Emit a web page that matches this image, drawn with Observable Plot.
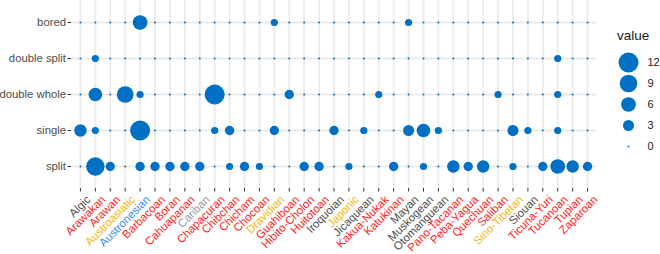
<!DOCTYPE html>
<html><head><meta charset="utf-8">
<script src="https://cdn.jsdelivr.net/npm/d3@7"></script>
<script src="https://cdn.jsdelivr.net/npm/@observablehq/plot@0.6"></script>
<style>
body{margin:0;background:#fff;}
#wrap{position:relative;width:660px;height:254px;font-family:"Liberation Sans",Arial,sans-serif;}
#legend{position:absolute;left:600px;top:0;}
#ltitle{position:absolute;left:617px;top:29px;font-size:13.5px;line-height:13.5px;color:#1a1a1a;}
</style></head><body><div id="wrap"><div id="ltitle">value</div></div>
<script>
const families = ["Algic","Arawakan","Arawan","Austroasiatic","Austronesian","Barbacoan","Boran","Cahuapanan","Cariban","Chapacuran","Chibchan","Chicham","Chocoan","Dravidian","Guahiboan","Hibito-Cholon","Huitotoan","Iroquoian","Japonic","Jicaquean","Kakua-Nukak","Katukinan","Mayan","Muskogean","Otomanguean","Pano-Tacanan","Peba-Yagua","Quechuan","Saliban","Sino-Tibetan","Siouan","Ticuna-Yuri","Tucanoan","Tupian","Zaparoan"];
const regions = ["NA","SA","SA","AS","AU","SA","SA","SA","CA","SA","SA","SA","SA","AS","SA","SA","SA","NA","AS","NA","SA","SA","NA","NA","NA","SA","SA","SA","SA","AS","NA","SA","SA","SA","SA"];
const types = ["bored","double split","double whole","single","split"];
const bored       = [0,0,0,0,6,0,0,0,0,0, 0,0,0,1,0,0,0,0,0,0, 0,0,1,0,0,0,0,0,0,0, 0,0,0,0,0];
const doubleSplit = [0,1,0,0,0,0,0,0,0,0, 0,0,0,0,0,0,0,0,0,0, 0,0,0,0,0,0,0,0,0,0, 0,0,1,0,0];
const doubleWhole = [0,5,0,8,1,0,0,0,0,12, 0,0,0,0,2,0,0,0,0,0, 1,0,0,0,0,0,0,0,1,0, 0,0,1,0,0];
const single      = [4,1,0,0,12,0,0,0,0,1, 2,0,0,2,0,0,0,2,0,1, 0,0,3,5,1,0,0,0,0,3, 1,0,1,0,0];
const split       = [0,10,2,0,2,2,2,2,2,0, 1,2,1,0,0,2,2,0,1,0, 0,2,0,1,0,4,2,4,0,1, 0,2,6,4,2];
const legendBreaks = [12,9,6,3,0];

const regionColors = {NA:"#4d4d4d", SA:"#ff1a1a", AS:"#f5b50a", AU:"#3d8af0", CA:"#9a9a9a"};
const series = {"bored":bored,"double split":doubleSplit,"double whole":doubleWhole,"single":single,"split":split};
const data = types.flatMap(t => families.map((f,i) => ({family:f, type:t, value:series[t][i]})));
const rScale = {type:"sqrt", domain:[0,12], range:[1,10]};
const font = '"Liberation Sans",Arial,sans-serif';

const chart = Plot.plot({
  width:660, height:254, marginLeft:71, marginRight:64, marginTop:0, marginBottom:66,
  style:{fontFamily:font, fontSize:"11px", background:"white", overflow:"visible"},
  x:{type:"point", domain:families, padding:0.6},
  y:{type:"point", domain:types, padding:0.6},
  r: rScale,
  marks:[
    Plot.gridX({stroke:"#ebebeb", strokeOpacity:1, strokeWidth:1.8}),
    Plot.gridY({stroke:"#ebebeb", strokeOpacity:1, strokeWidth:1.8}),
    Plot.axisY({tickSize:3.5, tickPadding:2, stroke:"#333", fill:"#4d4d4d", fontSize:11.3, label:null}),
    Plot.axisX({tickSize:3.5, stroke:"#333", tickFormat:() => "", label:null}),
    Plot.text(families, {x:d => d, frameAnchor:"bottom", dx:5, dy:6, rotate:-45, textAnchor:"end", lineAnchor:"top",
      fill:(d,i) => regionColors[regions[i]], fontSize:11.4}),
    Plot.dot(data, {x:"family", y:"type", r:"value", fill:"#0070c4"})
  ]
});
document.getElementById("wrap").appendChild(chart);

const legend = Plot.plot({
  width:60, height:160, marginLeft:20, marginRight:24, marginTop:61, marginBottom:13,
  style:{fontFamily:font, fontSize:"11px", background:"transparent", overflow:"visible"},
  y:{type:"point", domain:legendBreaks, padding:0, axis:null},
  r: rScale,
  marks:[
    Plot.dot(legendBreaks, {y:d => d, r:d => d, fill:"#0070c4"}),
    Plot.text(legendBreaks, {y:d => d, text:d => String(d), frameAnchor:"right", textAnchor:"start", dx:11, fontSize:11, fill:"#1a1a1a"})
  ]
});
legend.id = "legend";
document.getElementById("wrap").appendChild(legend);
</script></body></html>
